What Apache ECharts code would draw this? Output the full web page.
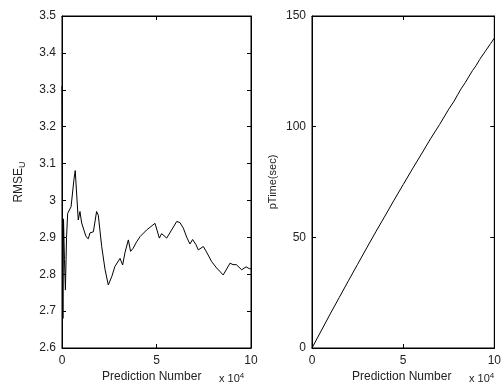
<!DOCTYPE html>
<html><head><meta charset="utf-8">
<script src="https://cdn.jsdelivr.net/npm/echarts@6/dist/echarts.min.js"></script>
<style>html,body{margin:0;padding:0;background:#fff}#c{width:504px;height:387px}</style>
</head><body><div id="c"></div>
<script>
// Left panel: RMSE_U vs prediction number
const rmseX = [0,100,300,500,800,1300,1800,2400,3000,4800,5600,6300,7000,8600,9500,10400,12700,13900,14800,16600,18300,19200,21000,22800,24500,26300,28000,29000,30700,32100,33300,35100,36300,37600,39500,41300,44800,49200,51500,52700,55400,58000,60700,62400,64200,66000,67700,69100,70900,72100,74800,76500,79200,81800,85300,88900,90500,92200,95100,97400,99100,100000];
const rmseY = [3.31,3.15,2.90,2.68,2.95,2.84,2.757,2.90,2.965,2.983,2.98,3.056,3.081,2.947,2.97,2.939,2.902,2.896,2.912,2.915,2.970,2.96,2.875,2.812,2.771,2.793,2.821,2.817,2.843,2.825,2.858,2.893,2.862,2.87,2.888,2.902,2.92,2.938,2.898,2.91,2.898,2.92,2.943,2.94,2.925,2.90,2.882,2.894,2.88,2.866,2.875,2.86,2.834,2.817,2.798,2.830,2.826,2.826,2.812,2.82,2.815,2.815];
// Right panel: pTime(sec) vs prediction number
const timeX = [0,5000,10000,15000,20000,25000,30000,35000,40000,45000,50000,55000,60000,65000,70000,75000,78000,80000,82000,84000,86000,88000,90000,92000,95000,98000,100000];
const timeY = [0,7.7,15.4,22.9,30.4,37.8,45.2,52.5,59.6,66.8,73.8,80.8,87.6,94.5,101,107.9,111.6,114.6,117.4,119.8,122.6,125.3,127.6,130.4,134,137.6,140];
const xTicks = [0,50000,100000];
const leftYTicks = [2.6,2.7,2.8,2.9,3.0,3.1,3.2,3.3,3.4,3.5];
const rightYTicks = [0,50,100,150];

const font = 'Liberation Sans, Arial, sans-serif';
const txt = '#222';
function xAx(g, pos, lab){
  return {gridIndex:g,type:'value',position:pos,min:xTicks[0],max:xTicks[xTicks.length-1],interval:xTicks[1]-xTicks[0],
    axisLine:{show:true,onZero:false,lineStyle:{color:'#000',width:1}},
    axisTick:{show:true,inside:true,length:4,lineStyle:{color:'#000'}},
    axisLabel:{show:lab,margin:7,color:txt,fontFamily:font,fontSize:12,formatter:v=>String(v/10000)},
    splitLine:{show:false}};
}
function yAx(g, pos, lab, ticks){
  return {gridIndex:g,type:'value',position:pos,min:ticks[0],max:ticks[ticks.length-1],interval:+(ticks[1]-ticks[0]).toFixed(6),
    axisLine:{show:true,onZero:false,lineStyle:{color:'#000',width:1}},
    axisTick:{show:true,inside:true,length:4,lineStyle:{color:'#000'}},
    axisLabel:{show:lab,margin:6,color:txt,fontFamily:font,fontSize:12,formatter:v=>String(+v.toFixed(1))},
    splitLine:{show:false}};
}
const chart = echarts.init(document.getElementById('c'),null,{renderer:'canvas'});
chart.setOption({
  animation:false,
  backgroundColor:'#fff',
  grid:[{left:62,top:16,width:189,height:332,show:true,borderColor:'#000',borderWidth:1,backgroundColor:'transparent'},
        {left:312,top:16,width:189,height:332,show:true,borderColor:'#000',borderWidth:1,backgroundColor:'transparent'}],
  xAxis:[xAx(0,'bottom',true),xAx(0,'top',false),xAx(1,'bottom',true),xAx(1,'top',false)],
  yAxis:[yAx(0,'left',true,leftYTicks),yAx(0,'right',false,leftYTicks),yAx(1,'left',true,rightYTicks),yAx(1,'right',false,rightYTicks)],
  series:[
    {type:'line',xAxisIndex:0,yAxisIndex:0,data:rmseX.map((x,i)=>[x,rmseY[i]]),showSymbol:false,lineStyle:{color:'#000',width:1},clip:true},
    {type:'line',xAxisIndex:2,yAxisIndex:2,data:timeX.map((x,i)=>[x,timeY[i]]),showSymbol:false,lineStyle:{color:'#000',width:1},clip:true},
    {type:'line',xAxisIndex:1,yAxisIndex:1,data:[],showSymbol:false},
    {type:'line',xAxisIndex:3,yAxisIndex:3,data:[],showSymbol:false}
  ],
  graphic:[
    {type:'text',left:102,top:371,style:{text:'Prediction Number',font:'12px '+font,fill:txt}},
    {type:'text',left:352,top:371,style:{text:'Prediction Number',font:'12px '+font,fill:txt}},
    {type:'text',left:219,top:372,style:{rich:{a:{fontSize:11,fontFamily:font,fill:txt,padding:[6,0,0,0]},s:{fontSize:8,fontFamily:font,fill:txt}},text:'{a|x 10}{s|4}'}},
    {type:'text',left:469,top:372,style:{rich:{a:{fontSize:11,fontFamily:font,fill:txt,padding:[6,0,0,0]},s:{fontSize:8,fontFamily:font,fill:txt}},text:'{a|x 10}{s|4}'}},
    {type:'text',x:19,y:182,rotation:Math.PI/2,style:{rich:{a:{fontSize:12,fontFamily:font,fill:txt},s:{fontSize:9,fontFamily:font,fill:txt,padding:[8,0,0,0]}},text:'{a|RMSE}{s|U}',align:'center',verticalAlign:'middle'}},
    {type:'text',x:273,y:182,rotation:Math.PI/2,style:{text:'pTime(sec)',font:'11px '+font,fill:txt,align:'center',verticalAlign:'middle'}}
  ]
});
</script></body></html>
